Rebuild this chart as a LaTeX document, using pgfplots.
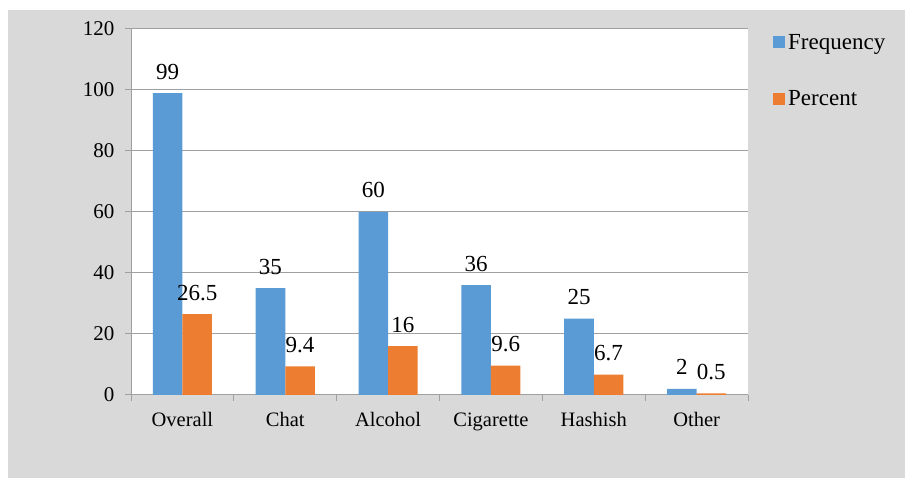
\documentclass[border=0pt]{standalone}
\usepackage{fontspec}
\setmainfont{Liberation Serif}
\usepackage{pgfplots}
\pgfplotsset{compat=1.18}

\definecolor{freqblue}{HTML}{5B9BD5}
\definecolor{pctorange}{HTML}{ED7D31}
\definecolor{panelgray}{HTML}{D9D9D9}
\definecolor{gridgray}{HTML}{A0A0A0}

\begin{document}
\begin{tikzpicture}[x=1bp,y=1bp]
  % page frame and grey panel
  \fill[white] (0,0) rectangle (905,478);
  \fill[panelgray] (8,0) rectangle (905,468);
  \begin{axis}[
    at={(131bp,83bp)}, anchor=south west,
    scale only axis, width=617bp, height=366bp,
    axis background/.style={fill=white},
    ybar=0pt, bar width=0.287,
    xmin=-0.5, xmax=5.5, ymin=0, ymax=120,
    ytick={0,20,...,120},
    yticklabels={0,20,40,60,80,100,120},
    xtick={0,...,5},
    xticklabels={Overall,Chat,Alcohol,Cigarette,Hashish,Other},
    minor xtick={-0.5,0.5,...,5.5},
    major x tick style={draw=none},
    tick align=outside,
    major tick length=6bp, minor tick length=6bp,
    tick style={gridgray, line width=1bp},
    axis lines*=left,
    axis line style={gridgray, line width=1bp},
    ymajorgrids, major grid style={gridgray, line width=1bp},
    yticklabel style={font=\fontsize{21bp}{24bp}\selectfont, xshift=-7bp},
    xticklabel style={font=\fontsize{20.5bp}{24bp}\selectfont, yshift=-8bp},
    point meta=explicit symbolic,
    nodes near coords,
    every node near coord/.append style={font=\fontsize{23bp}{26bp}\selectfont, anchor=base, yshift=14bp, inner sep=0pt},
    legend style={draw=none, fill=none, at={(1,1)}, anchor=north west,
      xshift=25bp, yshift=-2bp, font=\fontsize{23bp}{26bp}\selectfont,
      row sep=34bp, inner sep=0pt, nodes={inner sep=3bp}},
    legend cell align=left,
    legend image code/.code={\fill[#1] (0bp,-6bp) rectangle (12bp,6bp);},
  ]
    \addplot[fill=freqblue, draw=none] coordinates {
      (0,99)[99] (1,35)[35] (2,60)[60] (3,36)[36] (4,25)[25] (5,2)[2]};
    \addplot[fill=pctorange, draw=none] coordinates {
      (0,26.5)[26.5] (1,9.4)[9.4] (2,16)[16] (3,9.6)[9.6] (4,6.7)[6.7] (5,0.5)[0.5]};
    \legend{Frequency,Percent}
  \end{axis}
\end{tikzpicture}
\end{document}
